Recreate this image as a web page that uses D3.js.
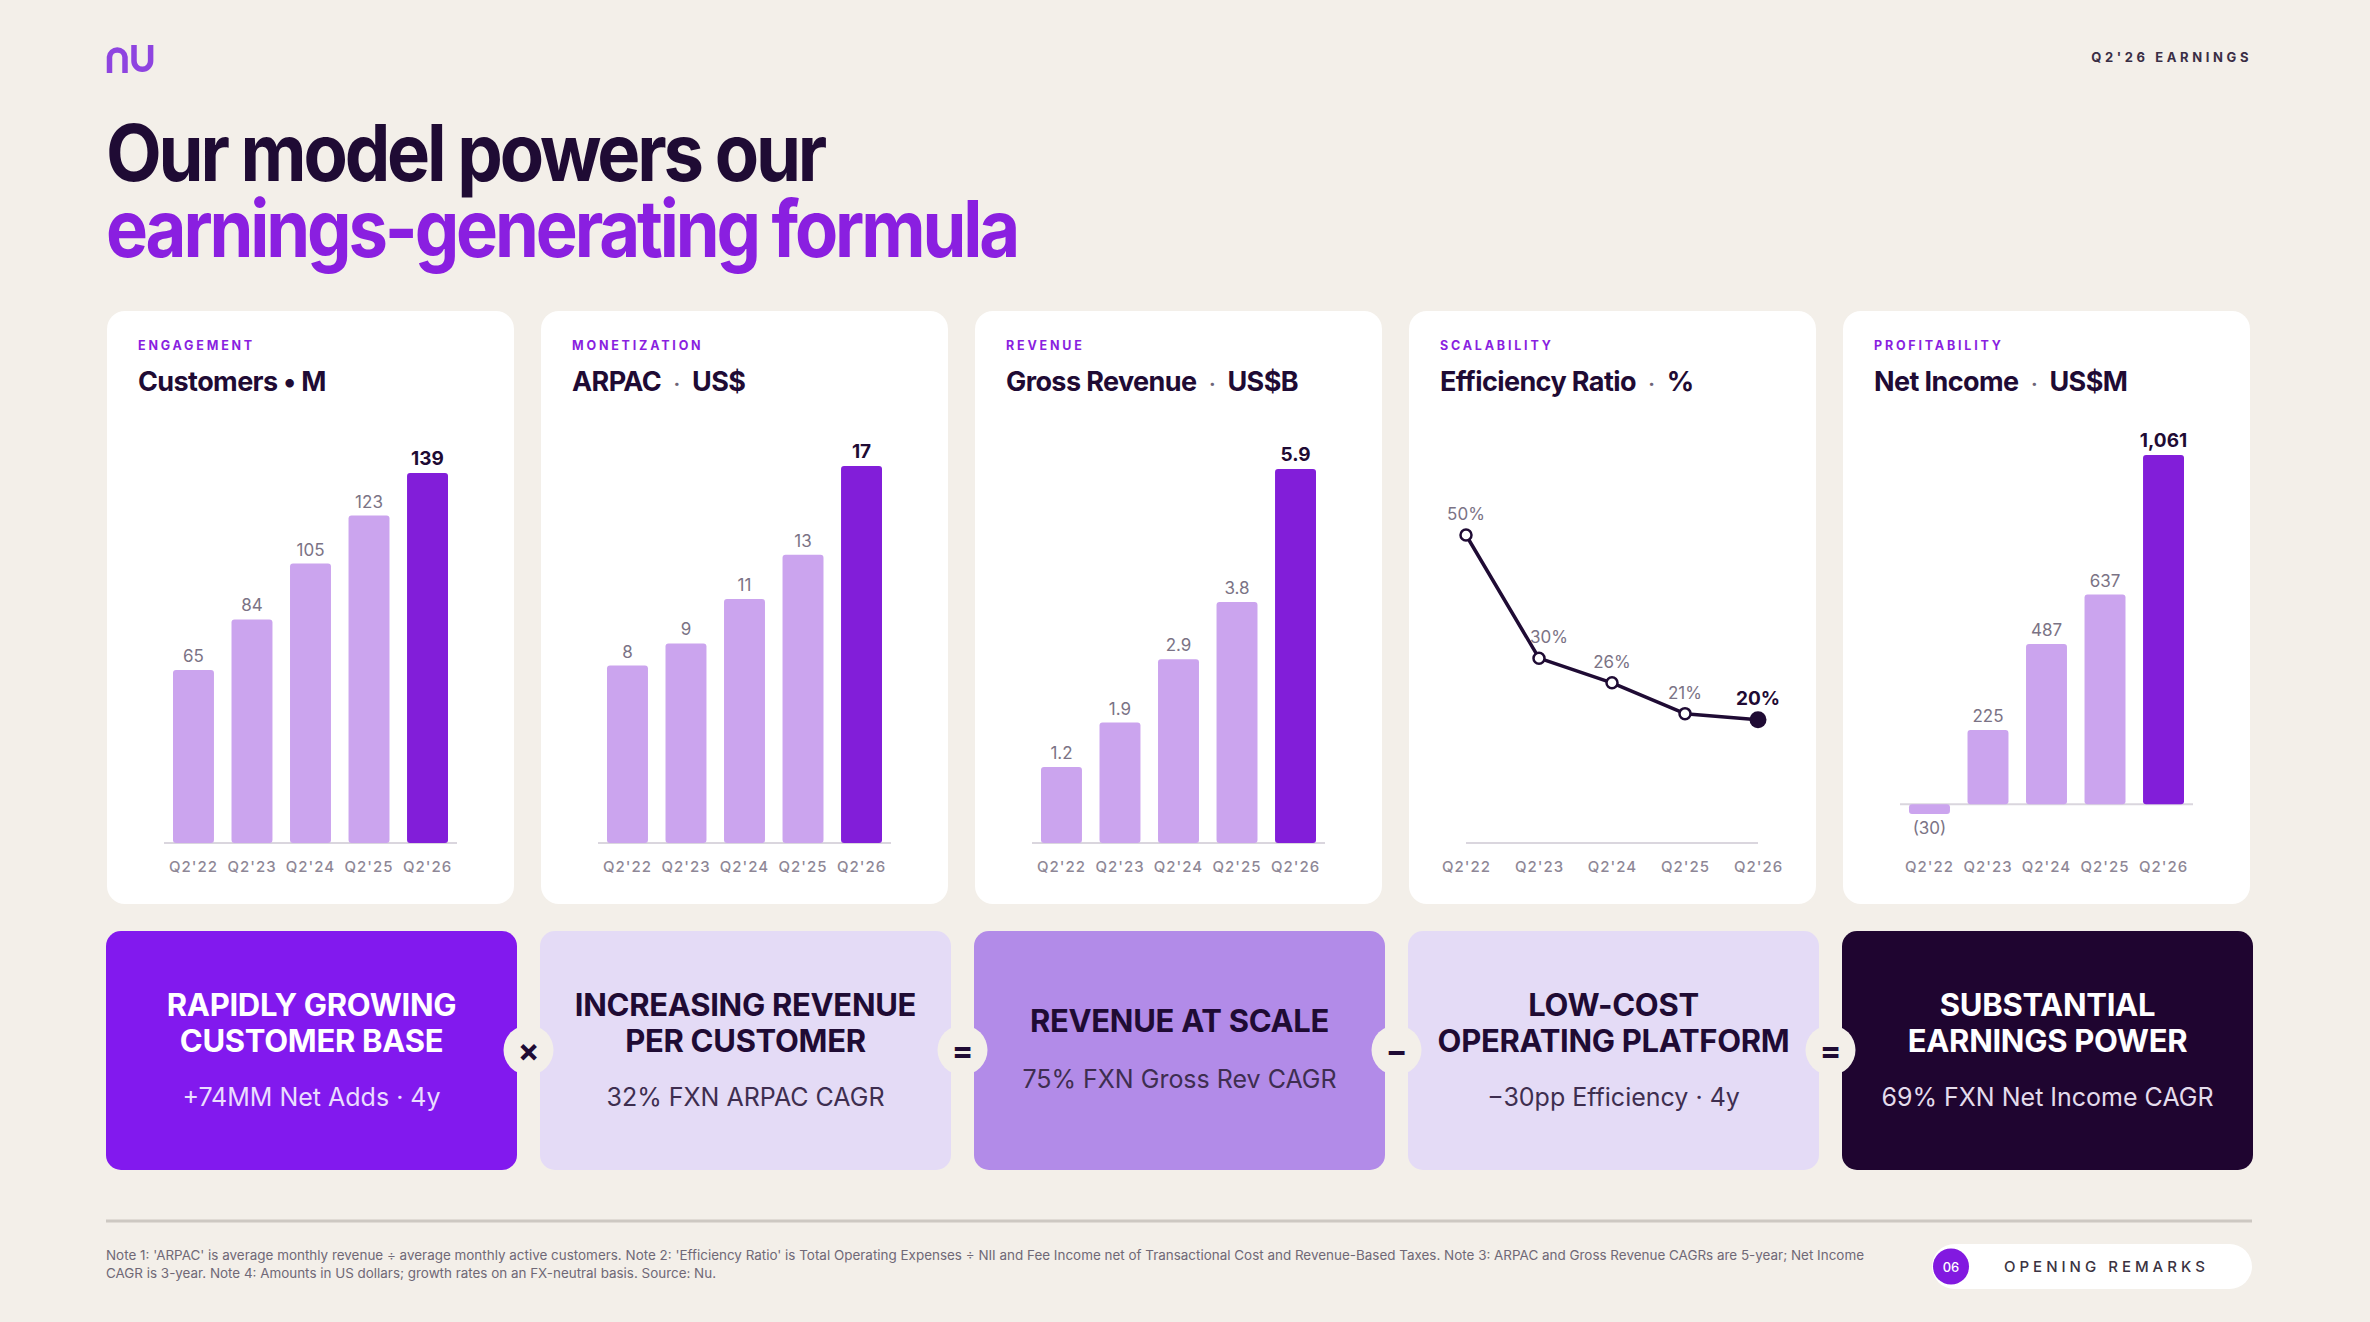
<!DOCTYPE html>
<html>
<head>
<meta charset="utf-8">
<script src="https://cdn.jsdelivr.net/npm/d3@7"></script>
<style>
  html, body { margin: 0; padding: 0; background: #F3EFE9; }
  svg { display: block; }
  text { font-family: Inter, 'Noto Sans', sans-serif; }
</style>
</head>
<body>
<svg width="2370" height="1322"></svg>
<script>
(function (d3) {
  'use strict';

  const svg = d3.select('svg');

  // chart values
  const quarters = ["Q2'22", "Q2'23", "Q2'24", "Q2'25", "Q2'26"];
  const customers = [65, 84, 105, 123, 139];
  const arpac = [8, 9, 11, 13, 17];
  const grossRevenue = [1.2, 1.9, 2.9, 3.8, 5.9];
  const efficiencyRatio = [50, 30, 26, 21, 20];
  const netIncome = [-30, 225, 487, 637, 1061];

  const kickers = ['ENGAGEMENT', 'MONETIZATION', 'REVENUE', 'SCALABILITY', 'PROFITABILITY'];
  const panelTitles = [['Customers', 'M'], ['ARPAC', 'US$'], ['Gross Revenue', 'US$B'],
    ['Efficiency Ratio', '%'], ['Net Income', 'US$M']];

  const boxTitles = [
    ['RAPIDLY GROWING', 'CUSTOMER BASE'],
    ['INCREASING REVENUE', 'PER CUSTOMER'],
    ['REVENUE AT SCALE'],
    ['LOW-COST', 'OPERATING PLATFORM'],
    ['SUBSTANTIAL', 'EARNINGS POWER']
  ];
  const boxSubtitles = ['+74MM Net Adds · 4y', '32% FXN ARPAC CAGR', '75% FXN Gross Rev CAGR',
    '−30pp Efficiency · 4y', '69% FXN Net Income CAGR'];
  const operators = ['×', '=', '−', '='];

  const notes = [
    "Note 1: 'ARPAC' is average monthly revenue ÷ average monthly active customers. Note 2: 'Efficiency Ratio' is Total Operating Expenses ÷ NII and Fee Income net of Transactional Cost and Revenue-Based Taxes. Note 3: ARPAC and Gross Revenue CAGRs are 5-year; Net Income",
    'CAGR is 3-year. Note 4: Amounts in US dollars; growth rates on an FX-neutral basis. Source: Nu.'
  ];

  // colours
  const ink = '#1F0B34';
  const purple = '#821ED9';
  const lilac = '#CBA4EE';
  const axisGrey = '#DAD6DE';
  const tickGrey = '#8E8796';
  const valueGrey = '#7B7385';

  // panel setup built from the arrays above
  const panels = [
    { values: customers, type: 'bar', fmt: d3.format('d'), yRange: [843, 473] },
    { values: arpac, type: 'bar', fmt: d3.format('d'), yRange: [843, 466] },
    { values: grossRevenue, type: 'bar', fmt: d3.format('.1f'), yRange: [843, 469] },
    { values: efficiencyRatio, type: 'line', fmt: d => d + '%', yRange: [843, 535] },
    { values: netIncome, type: 'bar', fmt: d => d < 0 ? `(${-d})` : d3.format(',')(d), yRange: [814, 455] }
  ];

  const fit = (sel, w) => sel.attr('textLength', w).attr('lengthAdjust', 'spacingAndGlyphs');

  // ---- header ----
  const logo = svg.append('g')
    .attr('fill', 'none')
    .attr('stroke', '#8E44E0')
    .attr('stroke-width', 5.5);
  logo.append('path').attr('d', 'M109.5,73 V57 A7.8,7.8 0 0 1 125,57 V73');
  logo.append('path').attr('d', 'M134,45 V61 A8.3,8.3 0 0 0 150.6,61 V45');

  svg.append('text')
    .attr('x', 2252).attr('y', 62)
    .attr('text-anchor', 'end')
    .attr('font-size', 13).attr('font-weight', 700)
    .attr('letter-spacing', 3.6)
    .attr('fill', '#3A2E45')
    .text("Q2'26 EARNINGS");

  // two-line headline kept in one text element
  const headline = svg.append('text')
    .attr('font-size', 79).attr('font-weight', 700)
    .attr('letter-spacing', -3.5);
  fit(headline.append('tspan')
    .attr('x', 106).attr('y', 181)
    .attr('fill', ink)
    .text('Our model powers our'), 718);
  fit(headline.append('tspan')
    .attr('x', 106).attr('y', 257)
    .attr('fill', '#8A1FE0')
    .text('earnings-generating formula'), 911);

  // ---- chart cards ----
  panels.forEach((p, i) => {
    const cx = 107 + 434 * i;
    const card = svg.append('g');

    card.append('rect')
      .attr('x', cx).attr('y', 311)
      .attr('width', 407).attr('height', 593)
      .attr('rx', 18)
      .attr('fill', '#FFFFFF');

    card.append('text')
      .attr('x', cx + 31).attr('y', 350)
      .attr('font-size', 12.5).attr('font-weight', 700)
      .attr('letter-spacing', 2.8)
      .attr('fill', '#8A1FE0')
      .text(kickers[i]);

    const title = card.append('text')
      .attr('x', cx + 31).attr('y', 391)
      .attr('font-size', 27).attr('font-weight', 700)
      .attr('letter-spacing', -0.6)
      .style('white-space', 'pre')
      .attr('fill', ink);
    title.append('tspan').text(panelTitles[i][0]);
    title.append('tspan')
      .attr('font-size', i === 0 ? 27 : 20)
      .attr('fill', i === 0 ? ink : '#6E6577')
      .text(i === 0 ? ' • ' : '   ·   ');
    title.append('tspan').text(panelTitles[i][1]);

    const last = p.values.length - 1;
    const rows = quarters.map((q, k) => ({ q, v: p.values[k], last: k === last }));

    if (p.type === 'bar') {
      const x = d3.scaleBand()
        .domain(quarters)
        .range([cx + 66, cx + 341])
        .paddingInner(0.3)
        .paddingOuter(0);

      const y = d3.scaleLinear()
        .domain([Math.min(0, d3.min(p.values)), d3.max(p.values)])
        .range(p.yRange);

      card.append('line')
        .attr('x1', cx + 57).attr('x2', cx + 350)
        .attr('y1', y(0)).attr('y2', y(0))
        .attr('stroke', axisGrey).attr('stroke-width', 2);

      card.selectAll('rect.bar').data(rows)
        .enter().append('rect')
          .attr('class', 'bar')
          .attr('x', d => x(d.q))
          .attr('width', x.bandwidth())
          .attr('y', d => Math.min(y(d.v), y(0)))
          .attr('height', d => Math.abs(y(d.v) - y(0)))
          .attr('rx', 3)
          .attr('fill', d => d.last ? purple : lilac);

      card.selectAll('text.value').data(rows)
        .enter().append('text')
          .attr('class', 'value')
          .attr('x', d => x(d.q) + x.bandwidth() / 2)
          .attr('y', d => d.v < 0 ? y(d.v) + 20 : y(d.v) - 8)
          .attr('text-anchor', 'middle')
          .attr('font-size', d => d.last ? 19 : 17)
          .attr('font-weight', d => d.last ? 700 : 400)
          .attr('fill', d => d.last ? ink : valueGrey)
          .text(d => p.fmt(d.v));

      const xAxisG = card.append('g')
        .attr('transform', 'translate(0,843)')
        .call(d3.axisBottom(x).tickSize(0).tickPadding(18));
      xAxisG.select('.domain').remove();
      xAxisG.selectAll('text')
        .attr('font-family', 'Inter, sans-serif')
        .attr('font-size', 15).attr('font-weight', 500)
        .attr('letter-spacing', 1)
        .attr('fill', tickGrey);
    } else {
      const x = d3.scalePoint()
        .domain(quarters)
        .range([cx + 57, cx + 349]);

      const y = d3.scaleLinear()
        .domain([0, d3.max(p.values)])
        .range(p.yRange);

      card.append('line')
        .attr('x1', x.range()[0]).attr('x2', x.range()[1])
        .attr('y1', y(0)).attr('y2', y(0))
        .attr('stroke', axisGrey).attr('stroke-width', 2);

      const line = d3.line()
        .x(d => x(d.q))
        .y(d => y(d.v));

      card.append('path')
        .datum(rows)
        .attr('d', line)
        .attr('fill', 'none')
        .attr('stroke', ink)
        .attr('stroke-width', 3.5)
        .attr('stroke-linejoin', 'round');

      card.selectAll('circle').data(rows)
        .enter().append('circle')
          .attr('cx', d => x(d.q))
          .attr('cy', d => y(d.v))
          .attr('r', d => d.last ? 8.5 : 5.5)
          .attr('fill', d => d.last ? ink : '#FFFFFF')
          .attr('stroke', ink)
          .attr('stroke-width', d => d.last ? 0 : 2.5);

      card.selectAll('text.value').data(rows)
        .enter().append('text')
          .attr('class', 'value')
          .attr('x', (d, k) => x(d.q) + (k === 1 ? 10 : 0))
          .attr('y', d => y(d.v) - 15)
          .attr('text-anchor', 'middle')
          .attr('font-size', d => d.last ? 19 : 17)
          .attr('font-weight', d => d.last ? 700 : 400)
          .attr('fill', d => d.last ? ink : valueGrey)
          .text(d => p.fmt(d.v));

      const xAxisG = card.append('g')
        .attr('transform', 'translate(0,843)')
        .call(d3.axisBottom(x).tickSize(0).tickPadding(18));
      xAxisG.select('.domain').remove();
      xAxisG.selectAll('text')
        .attr('font-family', 'Inter, sans-serif')
        .attr('font-size', 15).attr('font-weight', 500)
        .attr('letter-spacing', 1)
        .attr('fill', tickGrey);
    }
  });

  // ---- formula boxes ----
  const boxFills = ['#8219EE', '#E4DBF6', '#B28BE8', '#E4DBF6', '#1F0530'];
  const boxTitleInk = ['#FFFFFF', ink, ink, ink, '#FFFFFF'];
  const boxSubInk = ['#EADCFF', '#3E2E50', '#3E2E50', '#3E2E50', '#E4DCEC'];

  boxTitles.forEach((lines, i) => {
    const bx = 106 + 434 * i;
    const mid = bx + 205.5;
    const g = svg.append('g');

    g.append('rect')
      .attr('x', bx).attr('y', 931)
      .attr('width', 411).attr('height', 239)
      .attr('rx', 15)
      .attr('fill', boxFills[i]);

    const baselines = lines.length === 2 ? [1016, 1052] : [1032];
    lines.forEach((t, k) => {
      g.append('text')
        .attr('x', mid).attr('y', baselines[k])
        .attr('text-anchor', 'middle')
        .attr('font-family', 'Roboto, sans-serif')
        .attr('font-size', 31).attr('font-weight', 700)
        .attr('letter-spacing', -0.3)
        .attr('fill', boxTitleInk[i])
        .text(t);
    });

    g.append('text')
      .attr('x', mid).attr('y', lines.length === 2 ? 1106 : 1088)
      .attr('text-anchor', 'middle')
      .attr('font-family', 'Roboto, sans-serif')
      .attr('font-size', 25).attr('font-weight', 400)
      .attr('fill', boxSubInk[i])
      .text(boxSubtitles[i]);
  });

  operators.forEach((op, i) => {
    const ox = 106 + 434 * i + 411 + 11.5;
    svg.append('circle')
      .attr('cx', ox).attr('cy', 1050)
      .attr('r', 25)
      .attr('fill', '#F3EFE9');
    svg.append('text')
      .attr('x', ox).attr('y', 1050)
      .attr('text-anchor', 'middle')
      .attr('dominant-baseline', 'central')
      .attr('font-size', 32).attr('font-weight', 700)
      .attr('fill', ink)
      .text(op);
  });

  // ---- footer ----
  svg.append('line')
    .attr('x1', 106).attr('x2', 2252)
    .attr('y1', 1221).attr('y2', 1221)
    .attr('stroke', '#CDC8C2').attr('stroke-width', 3);

  fit(svg.append('text')
    .attr('x', 106).attr('y', 1260)
    .attr('font-family', 'Roboto, sans-serif')
    .attr('font-size', 13)
    .attr('fill', '#6F6876')
    .text(notes[0]), 1758);

  fit(svg.append('text')
    .attr('x', 106).attr('y', 1278)
    .attr('font-family', 'Roboto, sans-serif')
    .attr('font-size', 13)
    .attr('fill', '#6F6876')
    .text(notes[1]), 610);

  svg.append('rect')
    .attr('x', 1932).attr('y', 1244)
    .attr('width', 320).attr('height', 45)
    .attr('rx', 22.5)
    .attr('fill', '#FFFFFF');
  svg.append('circle')
    .attr('cx', 1951).attr('cy', 1266.5)
    .attr('r', 18)
    .attr('fill', '#8219E0');
  svg.append('text')
    .attr('x', 1951).attr('y', 1266.5)
    .attr('text-anchor', 'middle')
    .attr('dominant-baseline', 'central')
    .attr('font-size', 13).attr('font-weight', 500)
    .attr('fill', '#FFFFFF')
    .text('06');
  svg.append('text')
    .attr('x', 2004).attr('y', 1272)
    .attr('font-size', 15).attr('font-weight', 500)
    .attr('letter-spacing', 4)
    .attr('fill', '#3B3342')
    .text('OPENING REMARKS');

}(d3));
</script>
</body>
</html>
